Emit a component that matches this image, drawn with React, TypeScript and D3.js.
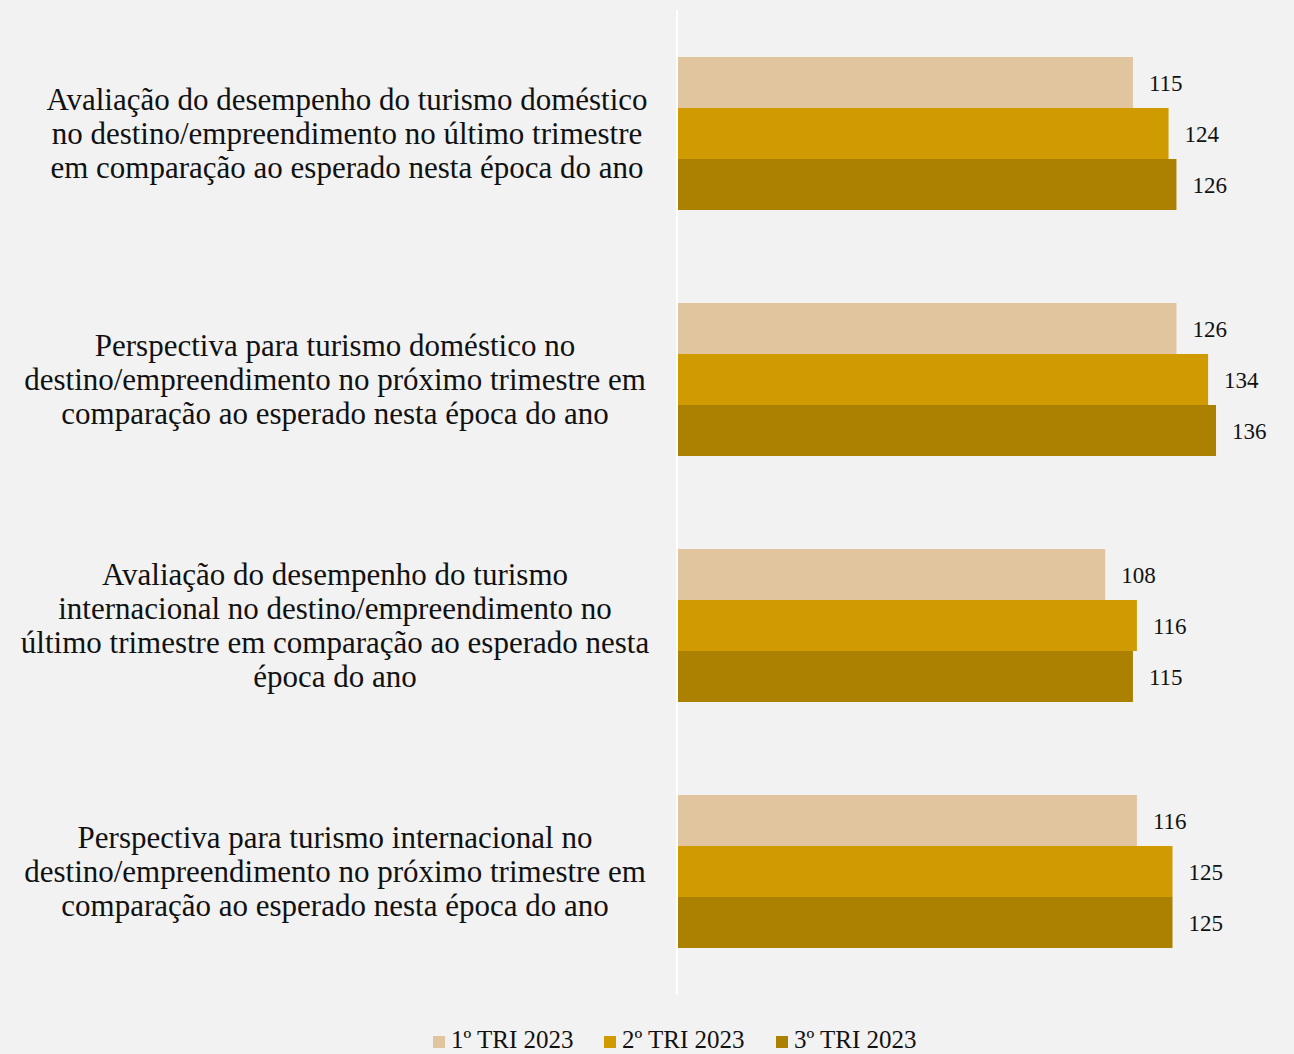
import React, { useEffect, useRef } from "react";
import * as d3 from "d3";

const W = 1294;
const H = 1054;

const CATEGORIES = [
  ["Avaliação do desempenho do turismo doméstico", "no destino/empreendimento no último trimestre", "em comparação ao esperado nesta época do ano"],
  ["Perspectiva para turismo doméstico no", "destino/empreendimento no próximo trimestre em", "comparação ao esperado nesta época do ano"],
  ["Avaliação do desempenho do turismo", "internacional no destino/empreendimento no", "último trimestre em comparação ao esperado nesta", "época do ano"],
  ["Perspectiva para turismo internacional no", "destino/empreendimento no próximo trimestre em", "comparação ao esperado nesta época do ano"],
];

const SERIES = ["1º TRI 2023", "2º TRI 2023", "3º TRI 2023"];
const TRI1 = [115, 126, 108, 116];
const TRI2 = [124, 134, 116, 125];
const TRI3 = [126, 136, 115, 125];
const VALUES = [TRI1, TRI2, TRI3];

const COLORS = ["#e1c59f", "#d09b00", "#ac8000"];
const FONT = "'Liberation Serif', 'Times New Roman', serif";
// horizontal centre of each wrapped category label
const LABEL_CX = [347, 335, 335, 335];

const App = () => {
  const svgRef = useRef<SVGSVGElement | null>(null);

  useEffect(() => {
    if (!svgRef.current) return;
    const svg = d3.select(svgRef.current);
    svg.selectAll("*").remove();

    svg.append("rect").attr("width", W).attr("height", H).attr("fill", "#f2f2f2");

    const x = d3.scaleLinear().domain([0, 150]).range([678, 678 + 593.4]);
    const y = d3.scaleBand<number>()
      .domain(d3.range(CATEGORIES.length))
      .range([10, 995])
      .paddingInner(0.378)
      .paddingOuter(0.191);
    const ySub = d3.scaleBand<number>()
      .domain(d3.range(SERIES.length))
      .range([0, y.bandwidth()]);

    // bars + value labels
    VALUES.forEach((vals, s) => {
      vals.forEach((v, i) => {
        const by = (y(i) ?? 0) + (ySub(s) ?? 0);
        svg.append("rect")
          .attr("x", x(0)).attr("y", by)
          .attr("width", x(v) - x(0)).attr("height", ySub.bandwidth())
          .attr("fill", COLORS[s]);
        svg.append("text")
          .attr("x", x(v) + 16).attr("y", by + ySub.bandwidth() / 2)
          .attr("dy", "0.35em")
          .attr("font-family", FONT).attr("font-size", "23px")
          .attr("fill", "#111")
          .text(v);
      });
    });

    // axis line
    svg.append("line")
      .attr("x1", 677).attr("x2", 677)
      .attr("y1", 10).attr("y2", 995)
      .attr("stroke", "#ffffff").attr("stroke-width", 2);

    // category labels
    const lineH = 34;
    CATEGORIES.forEach((lines, i) => {
      const cy = (y(i) ?? 0) + y.bandwidth() / 2;
      const t = svg.append("text")
        .attr("text-anchor", "middle")
        .attr("font-family", FONT).attr("font-size", "31px")
        .attr("fill", "#111");
      lines.forEach((ln, k) => {
        t.append("tspan")
          .attr("x", LABEL_CX[i])
          .attr("y", cy + (k - (lines.length - 1) / 2) * lineH)
          .attr("dy", "0.35em")
          .text(ln);
      });
    });

    // legend
    const legendX = [433, 604, 776];
    SERIES.forEach((name, s) => {
      const g = svg.append("g").attr("transform", `translate(${legendX[s]},1040)`);
      g.append("rect").attr("x", 0).attr("y", -4).attr("width", 12).attr("height", 12).attr("fill", COLORS[s]);
      g.append("text")
        .attr("x", 18).attr("y", 0).attr("dy", "0.3em")
        .attr("font-family", FONT).attr("font-size", "25px")
        .attr("fill", "#111")
        .text(name);
    });
  }, []);

  return <svg ref={svgRef} width={W} height={H} style={{ display: "block", position: "absolute", left: 0, top: 0 }} />;
};

export default App;
